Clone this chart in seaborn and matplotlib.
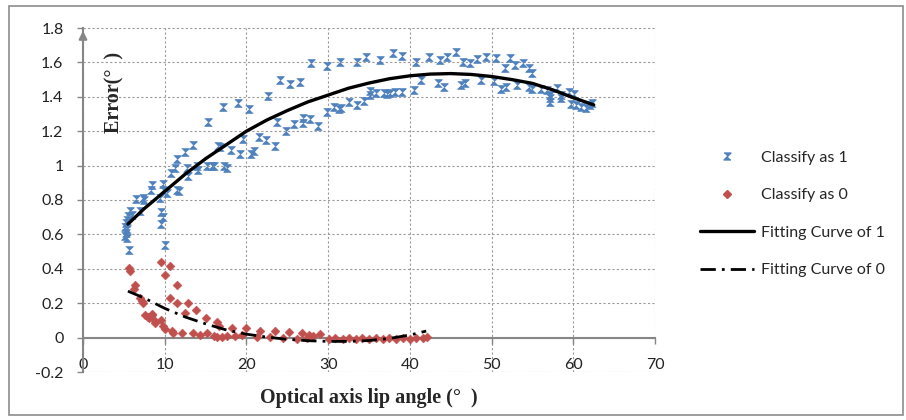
import matplotlib
matplotlib.use("Agg")
import matplotlib.pyplot as plt
from matplotlib.lines import Line2D
from matplotlib.patches import Rectangle
from matplotlib.ticker import FuncFormatter, MultipleLocator
import seaborn as sns
import pandas as pd

sns.set_theme(style="white")
plt.rcParams["font.family"] = ["Lato", "DejaVu Sans"]

# points (x = optical axis angle, y = error)
class1_x = [5.15, 5.2, 5.27, 5.27, 5.35, 5.35, 5.35, 5.55, 5.76, 5.96, 5.67, 6.5, 7.0, 7.4, 7.5,
            8.3, 8.4, 9.4, 9.55, 9.6, 9.8, 9.8, 9.85, 10.05, 10.3, 10.8, 11.3, 11.5, 11.5, 11.7,
            12.5, 12.7, 12.8, 13.5, 13.9, 14.1, 15.2, 15.8, 16.0, 16.5, 15.3, 16.8, 17.2, 17.6,
            17.1, 18.1, 19.0, 19.2, 19.6, 20.3, 20.5, 20.9, 21.5, 22.4, 22.7, 23.5, 23.8, 24.1,
            24.9, 25.3, 25.8, 26.5, 26.9, 26.9, 27.8, 27.9, 28.7, 29.8, 29.8, 30.7, 31.3, 31.5,
            31.6, 32.5, 33.5, 33.5, 34.4, 34.6, 35.1, 35.1, 35.9, 36.3, 36.8, 37.2, 37.6, 37.9,
            38.2, 39.0, 39.0, 40.5, 40.8, 41.4, 42.3, 43.5, 43.7, 44.2, 44.6, 45.6, 46.2, 46.5,
            46.8, 47.3, 48.2, 48.7, 49.3, 50.3, 50.6, 51.1, 51.6, 51.8, 52.2, 52.9, 53.1, 53.8,
            54.6, 54.6, 54.9, 55.0, 56.1, 56.8, 57.2, 57.2, 57.2, 58.0, 58.5, 58.5, 59.5, 59.7,
            60.1, 60.3, 60.9, 61.5, 62.1, 62.3]
class1_y = [0.59, 0.645, 0.665, 0.61, 0.685, 0.63, 0.58, 0.705, 0.735, 0.715, 0.51, 0.805, 0.735, 0.81, 0.80,
            0.86, 0.89, 0.81, 0.66, 0.73, 0.70, 0.895, 0.86, 0.54, 0.84, 0.955, 0.985, 1.04, 0.86, 0.85,
            1.08, 0.985, 0.94, 1.12, 1.0, 0.975, 1.0, 0.995, 0.995, 1.115, 1.256, 1.11, 0.995, 0.985,
            1.343, 1.09, 1.363, 1.07, 1.153, 1.328, 1.07, 1.085, 1.165, 1.15, 1.405, 1.115, 1.256, 1.498,
            1.204, 1.475, 1.243, 1.485, 1.276, 1.25, 1.27, 1.595, 1.233, 1.58, 1.314, 1.338, 1.33, 1.60,
            1.334, 1.372, 1.605, 1.353, 1.378, 1.634, 1.434, 1.411, 1.425, 1.614, 1.425, 1.417, 1.425, 1.657,
            1.429, 1.64, 1.429, 1.44, 1.60, 1.498, 1.634, 1.479, 1.614, 1.456, 1.634, 1.663, 1.469, 1.605,
            1.483, 1.595, 1.618, 1.498, 1.634, 1.489, 1.624, 1.444, 1.566, 1.459, 1.624, 1.585, 1.469, 1.595,
            1.566, 1.456, 1.446, 1.537, 1.444, 1.44, 1.411, 1.392, 1.372, 1.45, 1.411, 1.392, 1.43, 1.359,
            1.417, 1.353, 1.343, 1.334, 1.353, 1.366]

class0_x = [5.6, 5.8, 6.2, 6.36, 7.0, 7.2, 7.4, 7.6, 8.0, 8.1, 8.4, 8.4, 8.8, 8.8, 9.6, 9.6, 9.8,
            10.05, 10.05, 10.6, 10.7, 10.9, 11.05, 11.5, 11.5, 12.1, 12.5, 12.9, 13.5, 13.85, 14.3,
            15.0, 15.2, 16.0, 16.4, 16.4, 16.6, 17.0, 17.6, 18.2, 18.6, 19.4, 20.0, 21.3, 21.7, 22.9,
            23.5, 24.5, 25.2, 26.2, 26.8, 27.4, 27.6, 28.2, 29.0, 30.1, 30.9, 31.8, 32.6, 33.4, 34.2,
            35.0, 35.9, 36.7, 37.5, 38.3, 39.2, 40.0, 40.8, 41.6, 42.1]
class0_y = [0.405, 0.39, 0.283, 0.308, 0.23, 0.21, 0.20, 0.134, 0.12, 0.114, 0.14, 0.134, 0.095, 0.085, 0.437, 0.10, 0.066,
            0.366, 0.05, 0.418, 0.23, 0.037, 0.027, 0.308, 0.20, 0.027, 0.143, 0.20, 0.027, 0.163, 0.017,
            0.114, 0.027, 0.012, 0.089, 0.004, 0.066, 0.004, 0.012, 0.056, 0.012, 0.017, 0.056, 0.004, 0.041, 0.004,
            0.037, -0.002, 0.031, -0.008, 0.027, -0.002, 0.017, 0.012, 0.023, -0.006, -0.002, -0.006, -0.002, -0.006, -0.002,
            -0.006, -0.002, -0.006, -0.002, -0.006, -0.002, -0.006, -0.002, -0.002, 0.002]

# fitted trend curves
fit1_x = [5.5, 7.5, 10, 12.5, 15, 17.5, 20, 22.5, 25, 27.5, 30, 32.5, 35, 37.5, 40, 42.5, 45,
          47.5, 50, 52.5, 55, 57.5, 60, 62.5]
fit1_y = [0.66, 0.75, 0.85, 0.95, 1.04, 1.12, 1.20, 1.265, 1.32, 1.37, 1.41, 1.45, 1.48, 1.505,
          1.522, 1.532, 1.535, 1.53, 1.518, 1.50, 1.478, 1.44, 1.395, 1.353]
fit0_x = [5.5, 7.5, 10, 12.5, 15, 17.5, 20, 22.5, 25, 27.5, 30, 32.5, 35, 37.5, 40, 42]
fit0_y = [0.27, 0.23, 0.17, 0.12, 0.08, 0.045, 0.02, 0.003, -0.01, -0.018, -0.022, -0.022,
          -0.017, -0.005, 0.015, 0.038]

blue = "#4F81BD"
red = "#C0504D"
axis_gray = "#868686"
hourglass = [(-1, 1), (1, 1), (-1, -1), (1, -1)]
dash_dot = (0, (5.5, 2.2, 1, 2.2))
serif = ["Liberation Serif", "DejaVu Serif"]

df1 = pd.DataFrame({"angle": class1_x, "error": class1_y})
df0 = pd.DataFrame({"angle": class0_x, "error": class0_y})
fit1 = pd.DataFrame({"angle": fit1_x, "error": fit1_y})
fit0 = pd.DataFrame({"angle": fit0_x, "error": fit0_y})

fig = plt.figure(figsize=(9.06, 4.2), dpi=100)
ax = fig.add_axes([83 / 906, 1 - 372 / 420, (655 - 83) / 906, (372 - 28) / 420])

sns.scatterplot(data=df1, x="angle", y="error", ax=ax, marker=hourglass, s=30,
                color=blue, edgecolor=blue, linewidth=0.6, zorder=3)
sns.scatterplot(data=df0, x="angle", y="error", ax=ax, marker="D", s=20,
                color=red, edgecolor=red, linewidth=0.4, zorder=3)
sns.lineplot(data=fit1, x="angle", y="error", ax=ax, color="black", lw=2.4,
             sort=False, estimator=None, zorder=4)
sns.lineplot(data=fit0, x="angle", y="error", ax=ax, color="black", lw=2.0,
             linestyle=dash_dot, sort=False, estimator=None, zorder=4)

ax.set_xlim(0, 70)
ax.set_ylim(-0.2, 1.8)
ax.xaxis.set_major_locator(MultipleLocator(10))
ax.yaxis.set_major_locator(MultipleLocator(0.2))
ax.yaxis.set_major_formatter(FuncFormatter(lambda v, p: "%g" % round(v, 1)))
ax.grid(True, color="#9a9a9a", linestyle=(0, (2, 2)), linewidth=0.8)
ax.set_axisbelow(True)

for side in ["top", "right"]:
    ax.spines[side].set_visible(False)
ax.spines["bottom"].set_position(("data", 0))
ax.spines["bottom"].set_color(axis_gray)
ax.spines["bottom"].set_linewidth(1.5)
ax.spines["left"].set_color(axis_gray)
ax.spines["left"].set_linewidth(1.5)
ax.annotate("", xy=(0, 1.0), xycoords="axes fraction", xytext=(0, 0.97),
            arrowprops=dict(arrowstyle="-|>", color=axis_gray, lw=1.5, mutation_scale=12))

ax.tick_params(axis="both", which="both", direction="out", length=4, width=1,
               color=axis_gray, labelsize=11.5, labelcolor="#222222")
ax.tick_params(axis="y", left=True, pad=10)
ax.tick_params(axis="x", bottom=True, pad=11)

ax.set_xlabel("")
ax.set_ylabel("")
fig.text((258 + 480) / 2 / 906, 1 - 398 / 420, "Optical axis lip angle (°  )",
         ha="center", va="center", fontsize=14.5, fontweight="bold", family=serif)
fig.text(114 / 906, 1 - 92 / 420, "Error(°  )", ha="center", va="center",
         rotation=90, fontsize=14.5, fontweight="bold", family=serif)

handles = [
    Line2D([], [], linestyle="none", marker=hourglass, markersize=5, color=blue),
    Line2D([], [], linestyle="none", marker="D", markersize=4, color=red),
    Line2D([], [], color="black", lw=2.4),
    Line2D([], [], color="black", lw=2.0, linestyle=dash_dot),
]
labels = ["Classify as 1", "Classify as 0", "Fitting Curve of 1", "Fitting Curve of 0"]
fig.legend(handles, labels, loc="center left", bbox_to_anchor=(700 / 906, 1 - 214 / 420),
           frameon=False, fontsize=11.5, handlelength=3.4, handletextpad=0.45,
           labelspacing=1.45, borderpad=0, borderaxespad=0)

fig.patches.append(Rectangle((9 / 906, 5 / 420), (903 - 9) / 906, (414 - 5) / 420,
                             transform=fig.transFigure, fill=False,
                             edgecolor="#8c8c8c", lw=1.2))

fig.savefig("out.png", dpi=100, facecolor="white")
